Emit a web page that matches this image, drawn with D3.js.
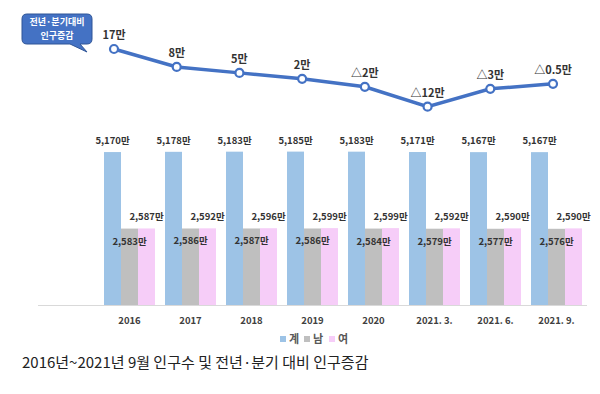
<!DOCTYPE html>
<html>
<head>
<meta charset="utf-8">
<script src="https://cdn.jsdelivr.net/npm/d3@7"></script>
<style>
  body { margin: 0; background: #fff; }
  svg { display: block; font-family: "Noto Sans CJK KR", "Noto Sans", sans-serif; }
</style>
</head>
<body>
<svg id="chart" width="600" height="394"></svg>
<script>
// categories and values (만 명)
const categories = ['2016', '2017', '2018', '2019', '2020', '2021. 3.', '2021. 6.', '2021. 9.'];
const total = [5170, 5178, 5183, 5185, 5183, 5171, 5167, 5167];
const male = [2583, 2586, 2587, 2586, 2584, 2579, 2577, 2576];
const female = [2587, 2592, 2596, 2599, 2599, 2592, 2590, 2590];
const change = [17, 8, 5, 2, -2, -12, -3, -0.5];

const seriesKeys = ['계', '남', '여'];
const colors = { '계': '#9dc3e6', '남': '#bfbfbf', '여': '#f6cdf8' };

const rows = categories.map((c, i) => ({ cat: c, '계': total[i], '남': male[i], '여': female[i], chg: change[i] }));

const svg = d3.select('#chart');
const fmt = d3.format(',');

// bar chart
const x0 = d3.scaleBand().domain(categories).range([99, 587]).padding(0);
const x1 = d3.scaleBand().domain(seriesKeys).range([5, 56]);
const y = d3.scaleLinear().domain([0, 6000]).range([305, 127.5]);

svg.append('line')
    .attr('x1', 38).attr('x2', 587)
    .attr('y1', y(0) + 0.5).attr('y2', y(0) + 0.5)
    .attr('stroke', '#d9d9d9');

const groups = svg.append('g')
    .selectAll('g')
    .data(rows)
    .enter()
    .append('g')
    .attr('transform', d => `translate(${x0(d.cat)},0)`);

groups.selectAll('rect')
    .data(d => seriesKeys.map(k => ({ key: k, value: d[k] })))
    .enter()
    .append('rect')
    .attr('x', d => x1(d.key))
    .attr('width', x1.bandwidth())
    .attr('y', d => y(d.value))
    .attr('height', d => y(0) - y(d.value))
    .attr('fill', d => colors[d.key]);

groups.selectAll('text.val')
    .data(d => seriesKeys.map(k => ({ key: k, value: d[k] })))
    .enter()
    .append('text')
    .attr('class', 'val')
    .attr('x', d => x1(d.key) + x1.bandwidth() / 2)
    .attr('y', d => d.key === '남' ? y(d.value) + 16 : y(d.value) - 8)
    .attr('text-anchor', 'middle')
    .attr('font-size', 9.5)
    .attr('font-weight', 'bold')
    .attr('fill', '#333')
    .text(d => fmt(d.value) + '만');

// category labels
svg.append('g')
    .selectAll('text')
    .data(categories)
    .enter()
    .append('text')
    .attr('x', d => x0(d) + x0.bandwidth() / 2)
    .attr('y', 324)
    .attr('text-anchor', 'middle')
    .attr('font-size', 9.5)
    .attr('font-weight', 'bold')
    .attr('fill', '#404040')
    .text(d => d);

// legend
const legendX = [280, 304, 329];
const legend = svg.append('g')
    .selectAll('g')
    .data(seriesKeys)
    .enter()
    .append('g')
    .attr('transform', (d, i) => `translate(${legendX[i]},336)`);
legend.append('rect').attr('width', 6).attr('height', 6).attr('fill', d => colors[d]);
legend.append('text')
    .attr('x', 9).attr('y', 7)
    .attr('font-size', 11)
    .attr('font-weight', 'bold')
    .attr('fill', '#595959')
    .text(d => d);

// line chart
const xl = d3.scalePoint().domain(categories).range([114, 553]);
const yl = d3.scaleLinear().domain([-12, 17]).range([106.7, 49]);

svg.append('path')
    .datum(rows)
    .attr('fill', 'none')
    .attr('stroke', '#4472c4')
    .attr('stroke-width', 3.5)
    .attr('d', d3.line().x(d => xl(d.cat)).y(d => yl(d.chg)));

svg.append('g')
    .selectAll('circle')
    .data(rows)
    .enter()
    .append('circle')
    .attr('cx', d => xl(d.cat))
    .attr('cy', d => yl(d.chg))
    .attr('r', 4)
    .attr('fill', '#fff')
    .attr('stroke', '#4472c4')
    .attr('stroke-width', 2.2);

svg.append('g')
    .selectAll('text')
    .data(rows)
    .enter()
    .append('text')
    .attr('x', d => xl(d.cat))
    .attr('y', d => yl(d.chg) - 10)
    .attr('text-anchor', 'middle')
    .attr('font-size', 11)
    .attr('font-weight', 'bold')
    .attr('fill', '#333')
    .text(d => (d.chg < 0 ? '△' + Math.abs(d.chg) : d.chg) + '만');

// callout
const callout = svg.append('g');
callout.append('path')
    .attr('d', 'M27,14 H87 Q92,14 92,19 V39 Q92,44 87,44 H80 L87,52 L70,44 H27 Q22,44 22,39 V19 Q22,14 27,14 Z')
    .attr('fill', '#4472c4')
    .attr('stroke', '#2f5597')
    .attr('stroke-width', 1);
callout.append('text')
    .attr('x', 57).attr('y', 25)
    .attr('text-anchor', 'middle')
    .attr('font-size', 9)
    .attr('font-weight', 'bold')
    .attr('fill', '#fff')
    .text('전년·분기대비');
callout.append('text')
    .attr('x', 57).attr('y', 38.5)
    .attr('text-anchor', 'middle')
    .attr('font-size', 9)
    .attr('font-weight', 'bold')
    .attr('fill', '#fff')
    .text('인구증감');

// caption
svg.append('text')
    .attr('x', 22).attr('y', 368)
    .attr('font-size', 15)
    .attr('fill', '#222')
    .text('2016년~2021년 9월 인구수 및 전년·분기 대비 인구증감');
</script>
</body>
</html>
